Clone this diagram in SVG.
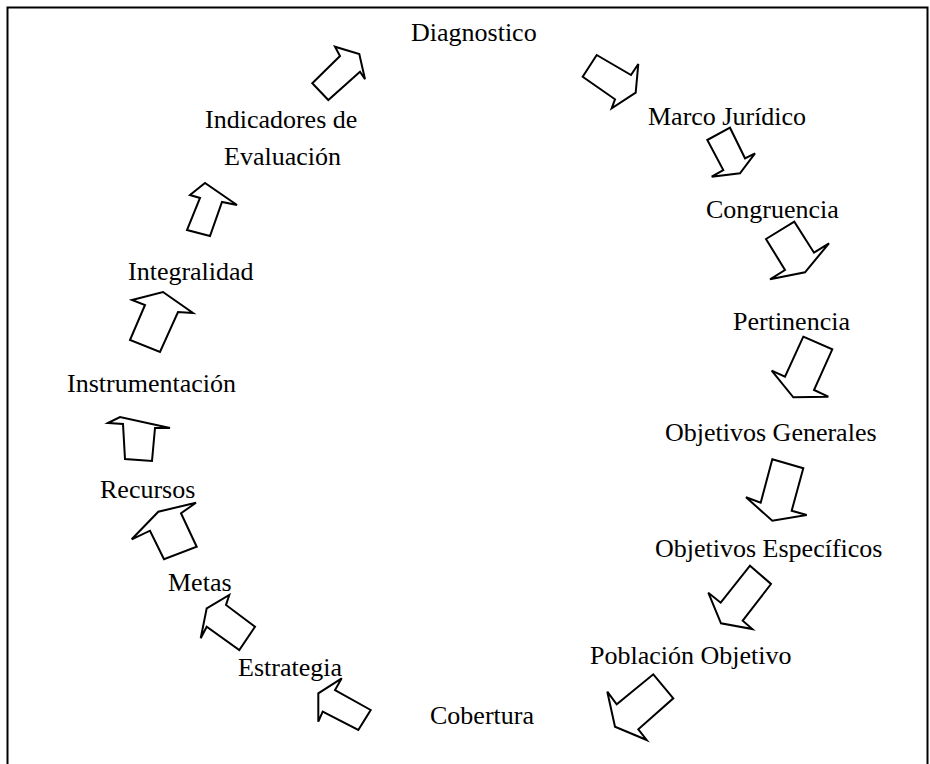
<svg xmlns="http://www.w3.org/2000/svg" width="930" height="764" viewBox="0 0 930 764">
<style>
.t{font-family:"Liberation Serif","Times New Roman",serif;font-size:26px;fill:#000}
.a{fill:#fff;stroke:#000;stroke-width:2;stroke-linejoin:miter}
</style>
<rect width="930" height="764" fill="#fff"/>
<path d="M7.5,764 V7.5 H927.5 V764" fill="none" stroke="#000" stroke-width="2"/>
<g id="n1"><text class="t" x="411" y="41">Diagnostico</text></g>
<g id="n2"><text class="t" x="648" y="125">Marco Jurídico</text></g>
<g id="n3"><text class="t" x="706" y="218">Congruencia</text></g>
<g id="n4"><text class="t" x="733" y="330">Pertinencia</text></g>
<g id="n5"><text class="t" x="665" y="441">Objetivos Generales</text></g>
<g id="n6"><text class="t" x="655" y="557">Objetivos Específicos</text></g>
<g id="n7"><text class="t" x="590" y="664">Población Objetivo</text></g>
<g id="n8"><text class="t" x="430" y="724">Cobertura</text></g>
<g id="n9"><text class="t" x="238" y="676">Estrategia</text></g>
<g id="n10"><text class="t" x="168" y="591">Metas</text></g>
<g id="n11"><text class="t" x="100" y="498">Recursos</text></g>
<g id="n12"><text class="t" x="67" y="392">Instrumentación</text></g>
<g id="n13"><text class="t" x="128" y="280">Integralidad</text></g>
<g id="n14"><text class="t" x="205" y="128">Indicadores de</text><text class="t" x="224" y="165">Evaluación</text></g>
<g id="connectors">
<polygon class="a" points="312.3,83.3 340,56 335,46.7 359.3,54 365,79.3 360,71.7 328.3,100"/>
<polygon class="a" points="596.7,55 631,75 638.3,64 635.7,92.7 611.7,108.3 615,99.3 582.7,76.7"/>
<polygon class="a" points="707.3,140 730,127.7 745,158.3 755,153.3 740,173.3 711.7,176.7 723.3,170"/>
<polygon class="a" points="766,239 794.3,221.7 814,252.7 829,243.3 805,272.3 770,279.3 785,270"/>
<polygon class="a" points="803.3,336.7 832.3,349.3 814,390 828.3,396.7 793.3,397.3 771.7,370.7 785,376.7"/>
<polygon class="a" points="772.3,459.3 803.3,468.3 791.7,510.7 806.7,515 772.3,520.7 746,497.3 760.7,502.7"/>
<polygon class="a" points="750,565.7 771,584 742.7,620.7 752.3,629 721,623.3 708.3,592.7 720.7,602.7"/>
<polygon class="a" points="653.3,674.3 673.3,698.3 638.3,729.3 646.7,740 615,726.7 607.3,691.7 616.7,704.3"/>
<polygon class="a" points="341.7,678.3 335,690 370.7,710 358.3,730 322.7,711.7 318.3,721.7 318.3,693.3"/>
<polygon class="a" points="229.3,595 226,605 255,626.7 239.3,650 206.7,626.7 200.7,638.3 206.7,608.3"/>
<polygon class="a" points="196,502.7 181,513.3 196.7,546.7 164,559.3 150,530.7 131.7,539.3 158.3,511.7"/>
<polygon class="a" points="108,423 120,417 170,428 155,428 152,461 125,459 123,424"/>
<polygon class="a" points="132,300 163,292 193,313 178,312 160,352 130,340 145,305"/>
<polygon class="a" points="190,195 205,183 237,205 222,202 210,236 187,230 200,198"/>
</g>
</svg>
